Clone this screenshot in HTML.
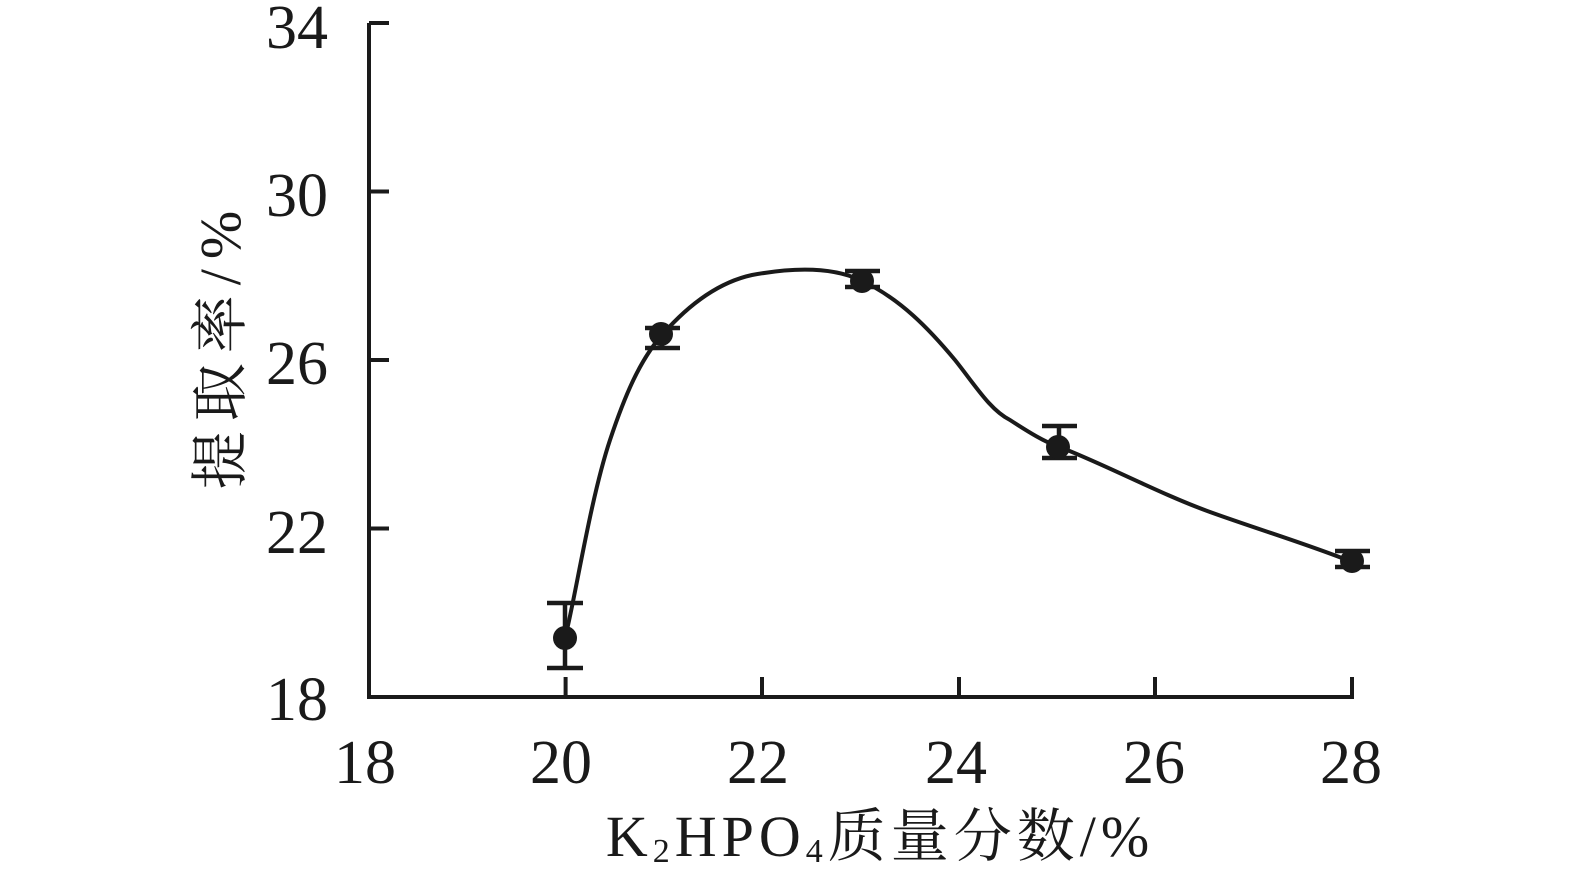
<!DOCTYPE html>
<html><head><meta charset="utf-8"><style>body{margin:0;background:#fff}</style></head><body>
<svg width="1575" height="874" viewBox="0 0 1575 874" xmlns="http://www.w3.org/2000/svg" style="display:block">
<g stroke="#1a1a1a" stroke-width="4" fill="none">
<polyline points="369,23 369,697 1354,697"/>
<line x1="369" y1="23" x2="389" y2="23"/><line x1="369" y1="191.5" x2="389" y2="191.5"/>
<line x1="369" y1="360" x2="389" y2="360"/><line x1="369" y1="528.5" x2="389" y2="528.5"/>
<line x1="565.6" y1="697" x2="565.6" y2="677"/><line x1="762" y1="697" x2="762" y2="677"/>
<line x1="959" y1="697" x2="959" y2="677"/><line x1="1155" y1="697" x2="1155" y2="677"/>
<line x1="1352" y1="697" x2="1352" y2="677"/>
<path d="M565,638 C575,600 590,500 610,440 C625,395 640,360 662,335 C690,303 720,282 752,275 C790,268 830,266 860,280 C900,298 930,330 955,360 C975,385 990,410 1010,420 C1030,433 1045,442 1057,446 C1100,462 1160,494 1210,512 C1260,530 1310,545 1352,562"/>
<g stroke-width="4.5">
<line x1="565" y1="603" x2="565" y2="668"/><line x1="547" y1="603" x2="583" y2="603"/><line x1="547" y1="668" x2="583" y2="668"/>
<line x1="662" y1="328" x2="662" y2="348"/><line x1="645" y1="328" x2="680" y2="328"/><line x1="645" y1="348" x2="680" y2="348"/>
<line x1="862" y1="271" x2="862" y2="287"/><line x1="845" y1="271" x2="880" y2="271"/><line x1="845" y1="287" x2="880" y2="287"/>
<line x1="1059" y1="426" x2="1059" y2="458"/><line x1="1042" y1="426" x2="1077" y2="426"/><line x1="1042" y1="458" x2="1077" y2="458"/>
<line x1="1352" y1="551" x2="1352" y2="567"/><line x1="1335" y1="551" x2="1370" y2="551"/><line x1="1335" y1="567" x2="1370" y2="567"/>
</g></g>
<g fill="#1a1a1a">
<circle cx="565" cy="638" r="12"/><circle cx="661" cy="334" r="12"/><circle cx="862" cy="281" r="12"/>
<circle cx="1058" cy="447" r="12"/><circle cx="1352" cy="561" r="12"/>
</g>
<g font-family="Liberation Serif, serif" font-size="62" fill="#1a1a1a" text-anchor="end">
<text x="328" y="48">34</text><text x="328" y="216">30</text><text x="328" y="384">26</text>
<text x="328" y="553">22</text><text x="328" y="720">18</text>
</g>
<g font-family="Liberation Serif, serif" font-size="62" fill="#1a1a1a" text-anchor="middle">
<text x="365" y="783">18</text><text x="561" y="783">20</text><text x="758" y="783">22</text>
<text x="956" y="783">24</text><text x="1154" y="783">26</text><text x="1351" y="783">28</text>
</g>
<text x="880" y="856" text-anchor="middle" font-family="Liberation Serif, 'Noto Serif CJK SC', serif" font-size="58" letter-spacing="5" fill="#1a1a1a">K<tspan font-size="34" dy="6">2</tspan><tspan dy="-6">HPO</tspan><tspan font-size="34" dy="6">4</tspan><tspan dy="-6">质量分数/%</tspan></text>
<text transform="translate(240,345) rotate(-90)" text-anchor="middle" font-family="Liberation Serif, 'Noto Serif CJK SC', serif" font-size="58" letter-spacing="10" fill="#1a1a1a">提取率/%</text>
</svg>
</body></html>
